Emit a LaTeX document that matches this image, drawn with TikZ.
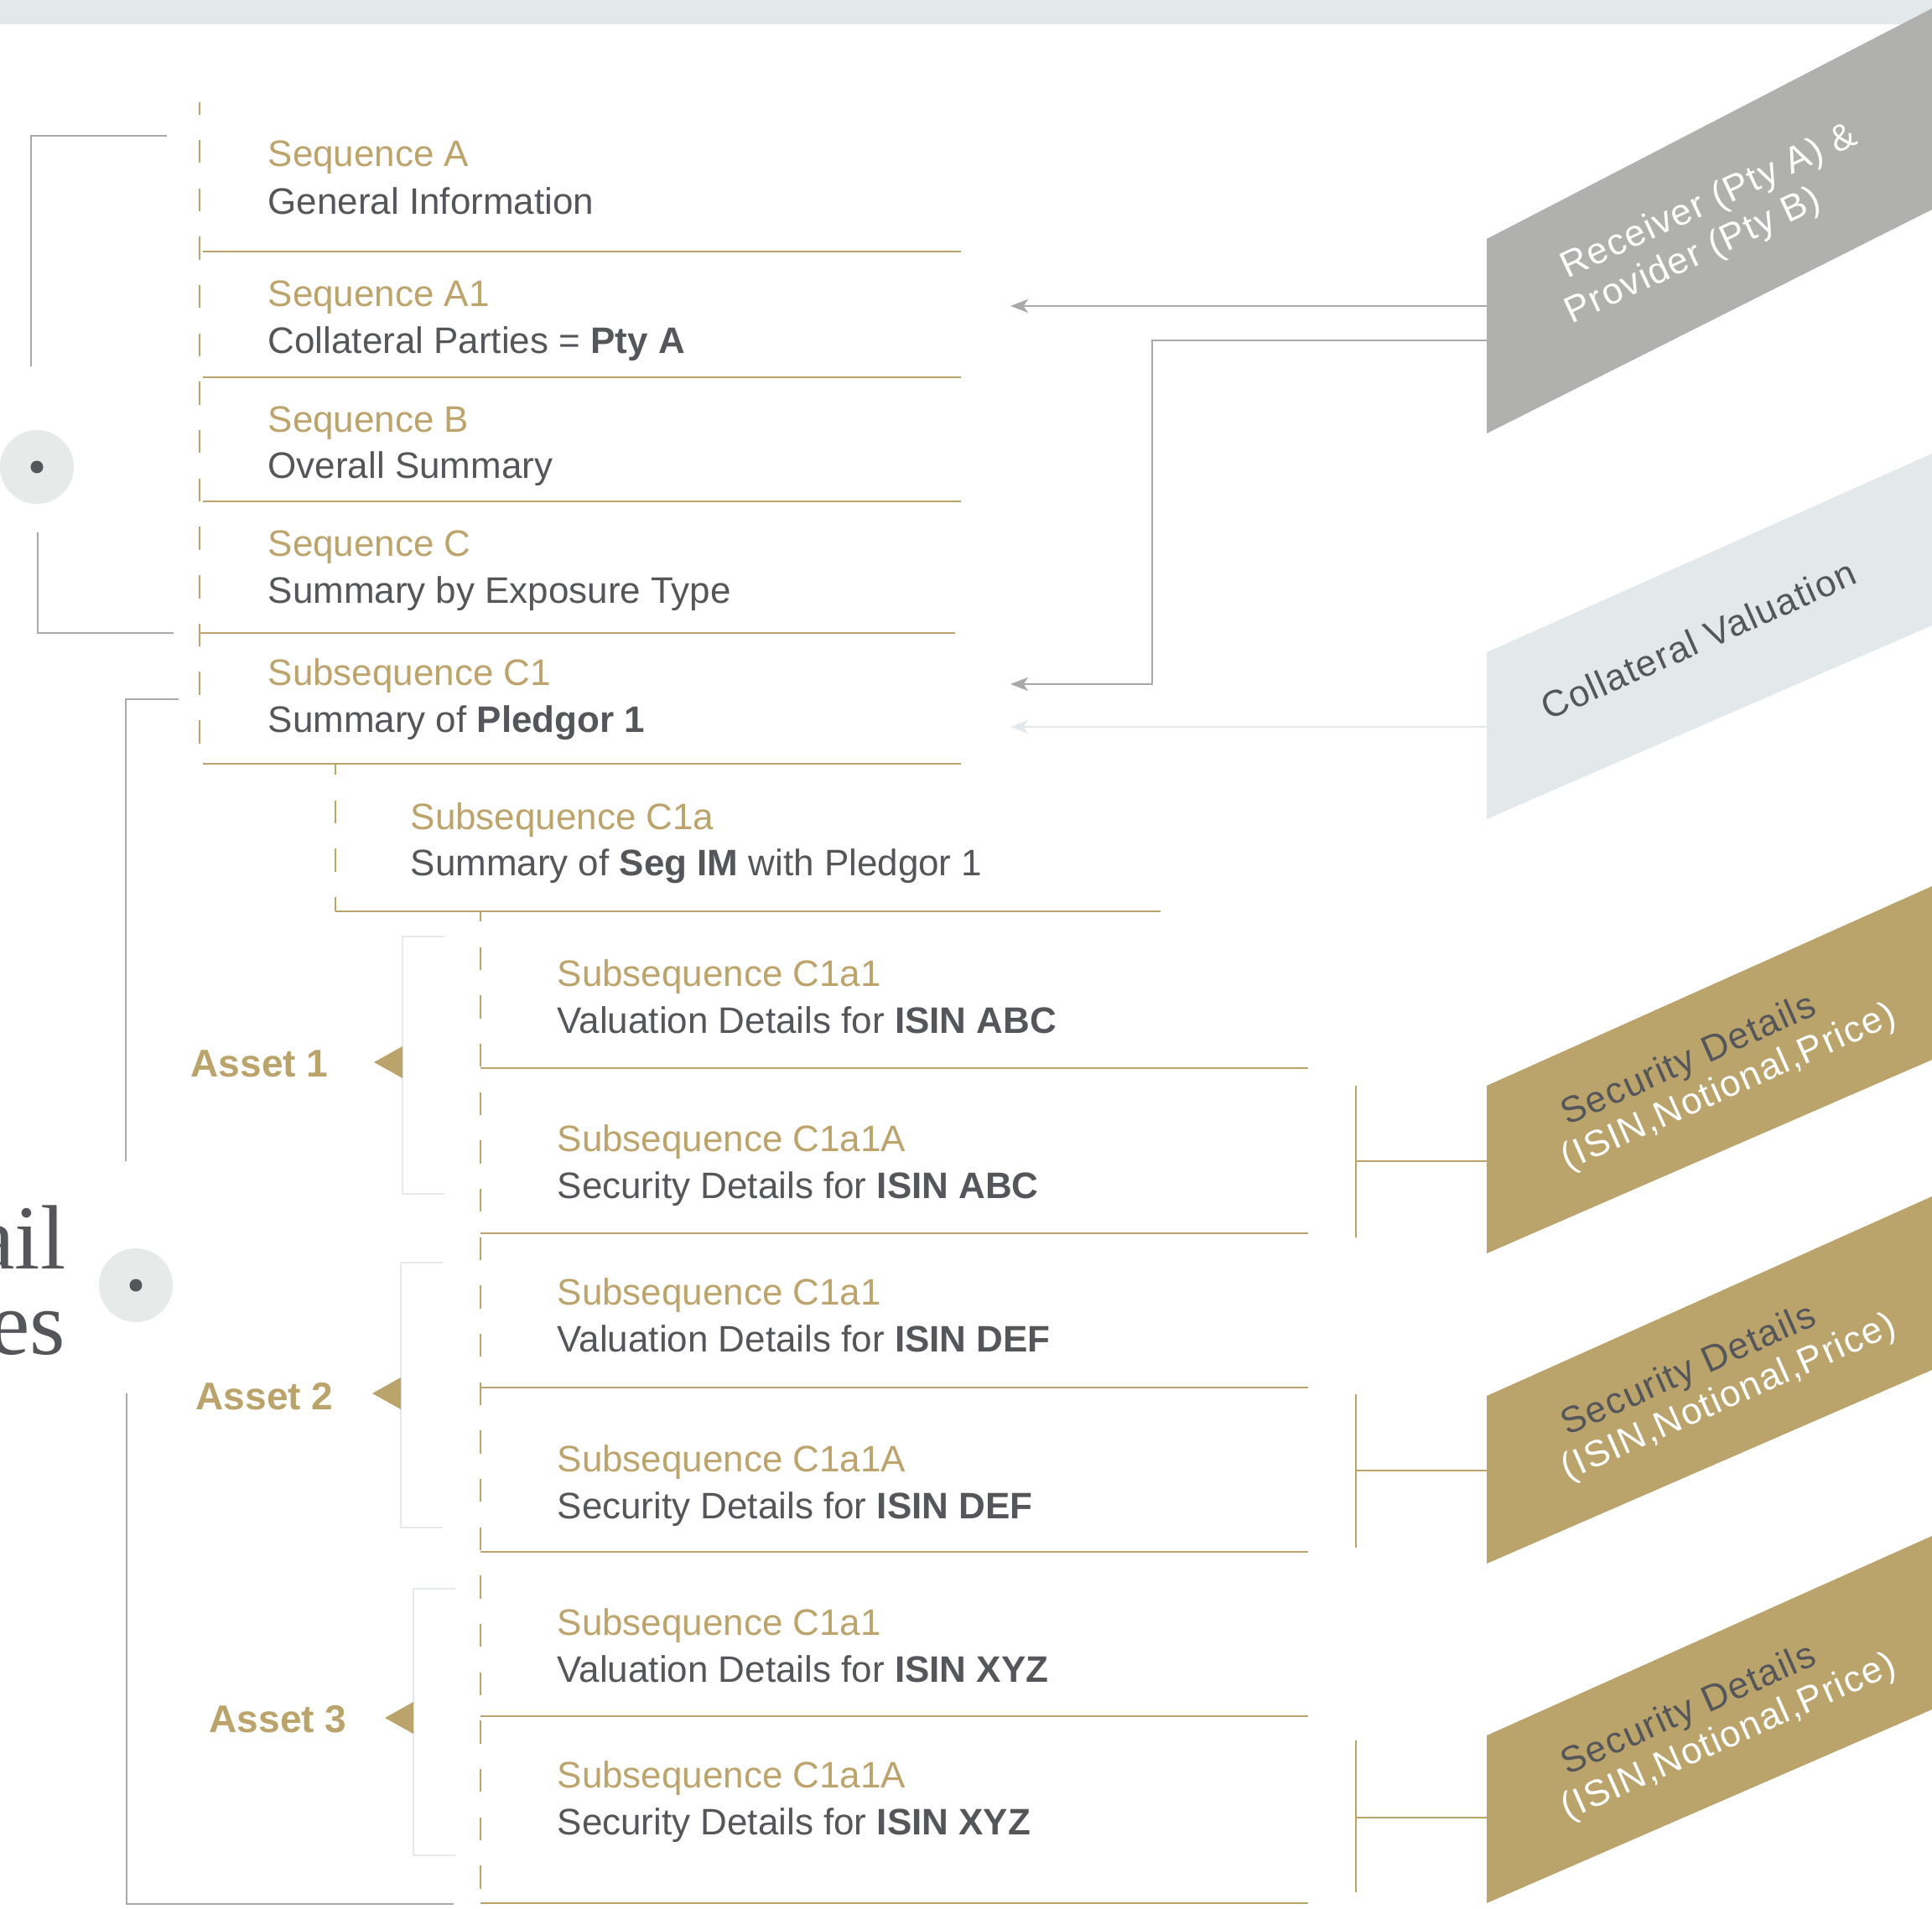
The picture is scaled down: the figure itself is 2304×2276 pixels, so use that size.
\documentclass[tikz,border=0pt]{standalone}
\usepackage{fontspec}
\setmainfont{Liberation Sans}
\newfontfamily\bigserif{Liberation Serif}
\usetikzlibrary{arrows.meta}
\definecolor{gold}{HTML}{BBA46B}
\definecolor{goldtext}{HTML}{BCA46C}
\definecolor{darktext}{HTML}{54565A}
\definecolor{grayband}{HTML}{B0B0AF}
\definecolor{lightband}{HTML}{E3E9EA}
\definecolor{linegray}{HTML}{A9A9A9}
\definecolor{bracketlight}{HTML}{E5EAE9}
\definecolor{circfill}{HTML}{E6EBEA}
\tikzset{
  hd/.style={anchor=base west, inner sep=0pt, text=goldtext, font=\fontsize{12.5}{15}\selectfont},
  bd/.style={anchor=base west, inner sep=0pt, text=darktext, font=\fontsize{12.5}{15}\selectfont},
  assetlbl/.style={anchor=base west, inner sep=0pt, text=gold, font=\fontsize{13.1}{15}\selectfont\bfseries},
  bandtxt/.style={anchor=base west, inner sep=0pt, font=\fontsize{12.5}{15}\selectfont\addfontfeatures{LetterSpace=3.5}},
  goldline/.style={draw=gold, line width=0.7pt},
  golddash/.style={draw=gold, line width=0.7pt, dash pattern=on 7.8pt off 8.6pt},
  grayline/.style={draw=linegray, line width=0.6pt},
  lightbr/.style={draw=bracketlight, line width=0.6pt},
  grayarrow/.style={draw=linegray, line width=0.6pt, -{Stealth[length=6pt, width=4.6pt, inset=1.6pt]}},
  lightarrow/.style={draw=lightband, line width=0.6pt, -{Stealth[length=6pt, width=4.6pt, inset=1.6pt]}},
  dotcirc/.style={circle, fill=circfill, minimum size=0.88cm, inner sep=0pt},
  innerdot/.style={circle, fill=darktext, minimum size=0.15cm, inner sep=0pt},
  tri/.style={fill=gold}
}
\begin{document}
\begin{tikzpicture}[x=0.01cm, y=-0.01cm]
\path[use as bounding box] (0,0) rectangle (2304,2276);
% top strip
\fill[lightband] (0,0) rectangle (2304,29);

% ---------- right bands ----------
\fill[grayband] (1773,285) -- (2304,10) -- (2304,250) -- (1773,517) -- cycle;
\coordinate (gb1) at (1773,365);
\coordinate (gb2) at (1773,406);
\node[bandtxt, text=white, rotate=25] (recv) at (1869,333) {Receiver (Pty A) \&};
\node[bandtxt, text=white, rotate=25] (prov) at (1874,387) {Provider (Pty B)};

\fill[lightband] (1773,778) -- (2304,541) -- (2304,746) -- (1773,977) -- cycle;
\coordinate (lb1) at (1773,867);
\node[bandtxt, text=darktext, rotate=24] (collval) at (1846,860) {Collateral Valuation};

\foreach \dy/\nm in {0/one,370/two,775/three}{
  \fill[gold] (1773,1295+\dy) -- (2304,1057+\dy) -- (2304,1264+\dy) -- (1773,1495+\dy) -- cycle;
  \node[bandtxt, text=darktext, rotate=24] (sd\nm) at (1869,1343+\dy) {Security Details};
  \node[bandtxt, text=white, rotate=24] (isin\nm) at (1869,1396+\dy) {(ISIN,Notional,Price)};
}

% ---------- arrows from bands ----------
\coordinate (tA1) at (1205,365);
\coordinate (tC1) at (1205,816);
\coordinate (tC1b) at (1205,867);
\coordinate (bend1) at (1374,406);
\coordinate (bend2) at (1374,816);
\draw[grayarrow] (gb1) -- (tA1);
\draw[grayarrow] (gb2) -- (bend1) -- (bend2) -- (tC1);
\draw[lightarrow] (lb1) -- (tC1b);

% gold connectors to security detail bands
\foreach \ya/\yb/\ym in {1295/1476/1385,1663/1846/1754,2076/2257/2168}{
  \draw[goldline] (1617,\ya) -- (1617,\yb);
  \draw[goldline] (1617,\ym) -- (1773,\ym);
}

% ---------- upper sequences ----------
\draw[golddash, dash phase=3.6pt] (238,122) -- (238,911);
\foreach \y in {300,450,598,911}{
  \draw[goldline] (242,\y) -- (1146,\y);
}
\draw[goldline] (238,755) -- (1139,755);

\node[hd] (sA) at (319,199) {Sequence A};
\node[bd] (bA) at (319,256) {General Information};
\node[hd] (sA1) at (319,365) {Sequence A1};
\node[bd] (bA1) at (319,421) {Collateral Parties = \textbf{Pty A}};
\node[hd] (sB) at (319,515) {Sequence B};
\node[bd] (bB) at (319,570) {Overall Summary};
\node[hd] (sC) at (319,663) {Sequence C};
\node[bd] (bC) at (319,719) {Summary by Exposure Type};
\node[hd] (sC1) at (319,817) {Subsequence C1};
\node[bd] (bC1) at (319,873) {Summary of \textbf{Pledgor 1}};

% ---------- C1a ----------
\draw[golddash, dash phase=4pt] (400,911) -- (400,1087);
\draw[goldline] (400,1087) -- (1384,1087);
\node[hd] (sC1a) at (489,989) {Subsequence C1a};
\node[bd] (bC1a) at (489,1044) {Summary of \textbf{Seg IM} with Pledgor 1};

% ---------- C1a1 rows ----------
\draw[golddash, dash phase=4.3pt] (573,1087) -- (573,2276);
\foreach \y in {1274,1471,1655,1851,2047,2270}{
  \draw[goldline] (573,\y) -- (1560,\y);
}
\node[hd] (r1h) at (664,1176) {Subsequence C1a1};
\node[bd] (r1b) at (664,1232) {Valuation Details for \textbf{ISIN ABC}};
\node[hd] (r2h) at (664,1373) {Subsequence C1a1A};
\node[bd] (r2b) at (664,1429) {Security Details for \textbf{ISIN ABC}};
\node[hd] (r3h) at (664,1556) {Subsequence C1a1};
\node[bd] (r3b) at (664,1612) {Valuation Details for \textbf{ISIN DEF}};
\node[hd] (r4h) at (664,1755) {Subsequence C1a1A};
\node[bd] (r4b) at (664,1811) {Security Details for \textbf{ISIN DEF}};
\node[hd] (r5h) at (664,1950) {Subsequence C1a1};
\node[bd] (r5b) at (664,2006) {Valuation Details for \textbf{ISIN XYZ}};
\node[hd] (r6h) at (664,2132) {Subsequence C1a1A};
\node[bd] (r6b) at (664,2188) {Security Details for \textbf{ISIN XYZ}};

% ---------- asset brackets ----------
\draw[lightbr] (530,1117) -- (480,1117) -- (480,1424) -- (530,1424);
\draw[lightbr] (528,1506) -- (478,1506) -- (478,1822) -- (528,1822);
\draw[lightbr] (543,1895) -- (493,1895) -- (493,2213) -- (543,2213);
\fill[tri] (480,1248) -- (446,1267) -- (480,1286) -- cycle;
\fill[tri] (478,1643) -- (444,1662) -- (478,1681) -- cycle;
\fill[tri] (493,2030) -- (459,2049) -- (493,2068) -- cycle;
\node[assetlbl] (as1) at (227,1284) {Asset 1};
\node[assetlbl] (as2) at (233,1681) {Asset 2};
\node[assetlbl] (as3) at (249,2066) {Asset 3};

% ---------- left gray brackets and dots ----------
\draw[grayline] (199,162) -- (37,162) -- (37,437);
\draw[grayline] (45,635) -- (45,755) -- (207,755);
\node[dotcirc] (dot1) at (44,557) {};
\node[innerdot] at (dot1) {};

\draw[grayline] (213,834) -- (150,834) -- (150,1385);
\draw[grayline] (151,1662) -- (151,2271) -- (541,2271);
\node[dotcirc] (dot2) at (162,1533) {};
\node[innerdot] at (dot2) {};

% large cut-off title
\node[anchor=base east, inner sep=0pt, text=darktext, font=\bigserif\fontsize{31}{34}\selectfont] (ttl1) at (79,1513) {ail};
\node[anchor=base east, inner sep=0pt, text=darktext, font=\bigserif\fontsize{31}{34}\selectfont] (ttl2) at (79,1615) {es};
\end{tikzpicture}
\end{document}
